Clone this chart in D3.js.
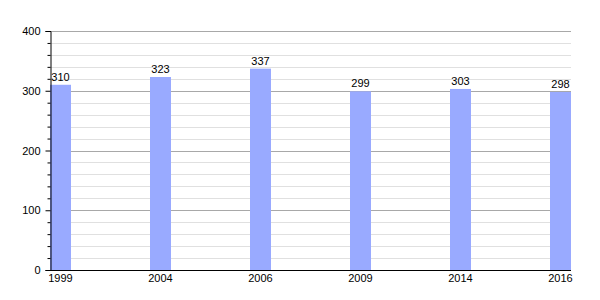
<!DOCTYPE html>
<html><head><meta charset="utf-8">
<script src="https://cdn.jsdelivr.net/npm/d3@7"></script>
<style>
body{margin:0;background:#fff;}
text{font-family:"Liberation Sans",Arial,sans-serif;font-size:11px;fill:#000;}
</style></head>
<body><svg id="c" width="600" height="300"></svg>
<script>
const years = ["1999","2004","2006","2009","2014","2016"];
const values = [310,323,337,299,303,298];
const majorTicks = [0,100,200,300,400];
const minorTicks = d3.range(0,401,20);

(function(){
const svg = d3.select("#c");
const mLeft=50, mRight=571, mTop=31, mBottom=270;
const x = d3.scaleBand().domain(years).range([mLeft,mRight]).paddingInner(0.79).paddingOuter(0);
const y = d3.scaleLinear().domain([0,400]).range([mBottom,mTop]);

// minor gridlines
svg.append("g").selectAll("line").data(minorTicks.filter(v=>v%100!==0)).join("line")
  .attr("x1",mLeft).attr("x2",mRight).attr("y1",d=>Math.round(y(d))+0.5).attr("y2",d=>Math.round(y(d))+0.5)
  .attr("stroke","#e0e0e0").attr("stroke-width",1);
// major gridlines
svg.append("g").selectAll("line").data(majorTicks.filter(v=>v>0)).join("line")
  .attr("x1",mLeft).attr("x2",mRight).attr("y1",d=>Math.round(y(d))+0.5).attr("y2",d=>Math.round(y(d))+0.5)
  .attr("stroke","#a8a8a8").attr("stroke-width",1);

// bars
svg.append("g").selectAll("rect").data(values).join("rect")
  .attr("x",(d,i)=>x(years[i])).attr("width",x.bandwidth())
  .attr("y",d=>y(d)).attr("height",d=>y(0)-y(d))
  .attr("fill","#99aaff");

// value labels
svg.append("g").selectAll("text").data(values).join("text")
  .attr("x",(d,i)=>x(years[i])+x.bandwidth()/2).attr("y",d=>y(d)-4)
  .attr("text-anchor","middle").text(d=>d);

// y axis
const yAxis = d3.axisLeft(y).tickValues(majorTicks).tickSize(5).tickPadding(5).tickFormat(d3.format("d"));
const gy = svg.append("g").attr("transform",`translate(${mLeft+0.5},0)`).call(yAxis);
gy.select(".domain").attr("stroke","#000");
gy.selectAll(".tick line").attr("stroke","#000");
gy.selectAll("text").style("font-size","11px").attr("font-family",null);
gy.attr("font-family",null).attr("font-size",null);
const yMinor = d3.axisLeft(y).tickValues(minorTicks.filter(v=>v%100!==0)).tickSize(3).tickFormat("");
const gm = svg.append("g").attr("transform",`translate(${mLeft+0.5},0)`).call(yMinor);
gm.select(".domain").remove();
gm.selectAll(".tick line").attr("stroke","#000");

// x axis
svg.append("line").attr("x1",mLeft).attr("x2",mRight).attr("y1",mBottom+0.5).attr("y2",mBottom+0.5).attr("stroke","#000");
svg.append("g").selectAll("text").data(years).join("text")
  .attr("x",d=>x(d)+x.bandwidth()/2).attr("y",mBottom+12)
  .attr("text-anchor","middle").text(d=>d);
})();
</script></body></html>
